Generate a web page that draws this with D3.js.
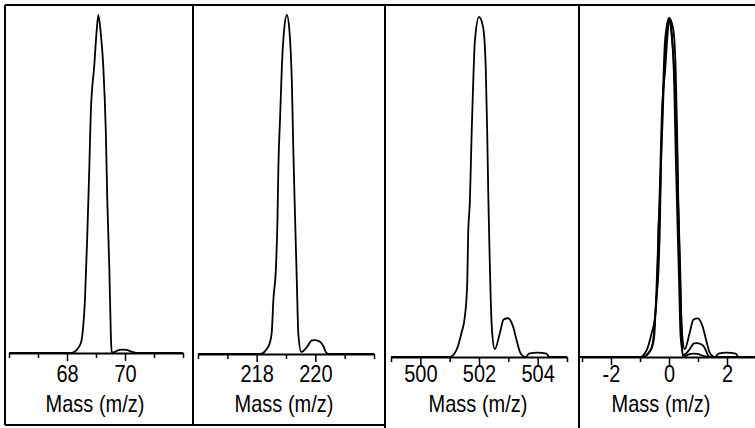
<!DOCTYPE html>
<html>
<head>
<meta charset="utf-8">
<script src="https://cdn.jsdelivr.net/npm/d3@7"></script>
<style>
  body { margin: 0; background: #fff; }
  svg { display: block; }
</style>
</head>
<body>
<svg id="chart"></svg>
<script>
// isotope profiles, intensity in % of the main peak
const mass69 = [66, 68.17, 68.34, 68.48, 68.55, 68.62, 68.70, 68.77, 68.82, 68.94, 69.02, 69.08, 69.16, 69.25, 69.34, 69.39, 69.46, 69.51, 69.54, 69.6, 69.75, 69.9, 70.05, 70.2, 70.35, 70.45, 72]
const int69 = [0, 0, 1, 3, 7, 16, 35, 55, 71, 85, 95, 100, 95, 85, 65, 45, 25, 6, 0.3, 0.2, 0.8, 1.0, 0.9, 0.5, 0.1, 0, 0]

const mass219 = [216, 218.12, 218.40, 218.51, 218.57, 218.66, 218.71, 218.74, 218.80, 218.86, 218.94, 219.03, 219.12, 219.20, 219.25, 219.31, 219.37, 219.42, 219.52, 219.71, 219.88, 219.99, 220.16, 220.28, 220.37, 220.45, 222]
const int219 = [0, 0, 2.2, 6, 16, 26, 40, 55, 70, 85, 96, 100, 95, 80, 60, 40, 21, 6, 0.6, 2, 4, 4.1, 3.6, 2.2, 0.4, 0, 0]

const mass502 = [499, 501.0, 501.23, 501.40, 501.52, 501.60, 501.63, 501.69, 501.75, 501.80, 501.86, 502.0, 502.14, 502.23, 502.28, 502.32, 502.37, 502.40, 502.45, 502.54, 502.71, 502.84, 502.99, 503.16, 503.28, 503.39, 503.5, 503.6, 503.7, 504.0, 504.3, 504.4, 505]
const int502 = [0, 0, 2, 7, 12, 22, 36, 46, 66, 80, 93, 100, 97, 85, 66, 46, 27, 17, 7, 2.3, 7, 11, 11.4, 9, 5, 1.6, 0.3, 0, 1.0, 1.3, 1.0, 0, 0]

// last panel overlays the three, each shifted so its main peak sits at 0
const peakMass = [69.07, 219.02, 502.0]

const domains = [[66, 72], [216, 222], [499, 505], [-3, 3]]
const labelTicks = [[68, 70], [218, 220], [500, 502, 504], [-2, 0, 2]]
const axisTitle = 'Mass (m/z)'

const width = 755, height = 428

const spectra = [
    d3.zip(mass69, int69),
    d3.zip(mass219, int219),
    d3.zip(mass502, int502)
]

const panels = [
    { x0: 9, x1: 183, base: 353, top: 15, titleX: 95, lines: [[0, 0]] },
    { x0: 198, x1: 374, base: 354, top: 15, titleX: 284, lines: [[1, 0]] },
    { x0: 391, x1: 567, base: 357, top: 17, titleX: 478, lines: [[2, 0]] },
    { x0: 582, x1: 756, base: 357, top: 18, titleX: 661, lines: [[0, peakMass[0]], [1, peakMass[1]], [2, peakMass[2]]] }
]

const svg = d3.select('#chart')
    .attr('width', width)
    .attr('height', height)

const font = '"Liberation Sans", Arial, sans-serif'
const stretch = 'scale(1,1.18)'

panels.forEach((p, i) =>
{
    let x = d3.scaleLinear().domain(domains[i]).range([p.x0, p.x1])
    let y = d3.scaleLinear().domain([0, 100]).range([p.base, p.top])
    let labels = labelTicks[i]

    let axis = d3.axisBottom(x)
        .tickValues(d3.range(domains[i][0], domains[i][1] + 1))
        .tickFormat(d => labels.includes(d) ? d : '')
        .tickSizeOuter(0)

    let g = svg.append('g')
        .attr('transform', `translate(0,${p.base})`)
        .call(axis)
        .attr('font-family', font)
        .attr('font-size', 20)

    g.select('.domain').attr('stroke', '#000').attr('stroke-width', 2)
    g.selectAll('.tick line')
        .attr('stroke', '#000')
        .attr('stroke-width', 1.5)
        .attr('y2', d => labels.includes(d) ? 8 : 5)
    g.selectAll('.tick text')
        .attr('fill', '#000')
        .attr('y', null)
        .attr('dy', null)
        .attr('transform', `translate(0,${382 - p.base}) ${stretch}`)

    svg.append('text')
        .attr('transform', `translate(${p.titleX},412) ${stretch}`)
        .attr('text-anchor', 'middle')
        .attr('font-family', font)
        .attr('font-size', 20)
        .attr('fill', '#000')
        .text(axisTitle)

    p.lines.forEach(([k, shift]) =>
    {
        let line = d3.line()
            .x(d => x(d[0] - shift))
            .y(d => y(d[1]))
            .curve(d3.curveMonotoneX)

        svg.append('path')
            .attr('d', line(spectra[k]))
            .attr('fill', 'none')
            .attr('stroke', '#000')
            .attr('stroke-width', 1.8)
    })
})

// frame lines
const frame = svg.append('g').attr('stroke', '#000').attr('stroke-width', 2)
frame.append('line').attr('x1', 5).attr('x2', 755).attr('y1', 5).attr('y2', 5)
frame.append('line').attr('x1', 5).attr('x2', 5).attr('y1', 5).attr('y2', 425)
frame.append('line').attr('x1', 5).attr('x2', 385).attr('y1', 425).attr('y2', 425)
frame.append('line').attr('x1', 193).attr('x2', 193).attr('y1', 5).attr('y2', 425)
frame.append('line').attr('x1', 385).attr('x2', 385).attr('y1', 5).attr('y2', 428)
frame.append('line').attr('x1', 579).attr('x2', 579).attr('y1', 5).attr('y2', 428)
</script>
</body>
</html>
